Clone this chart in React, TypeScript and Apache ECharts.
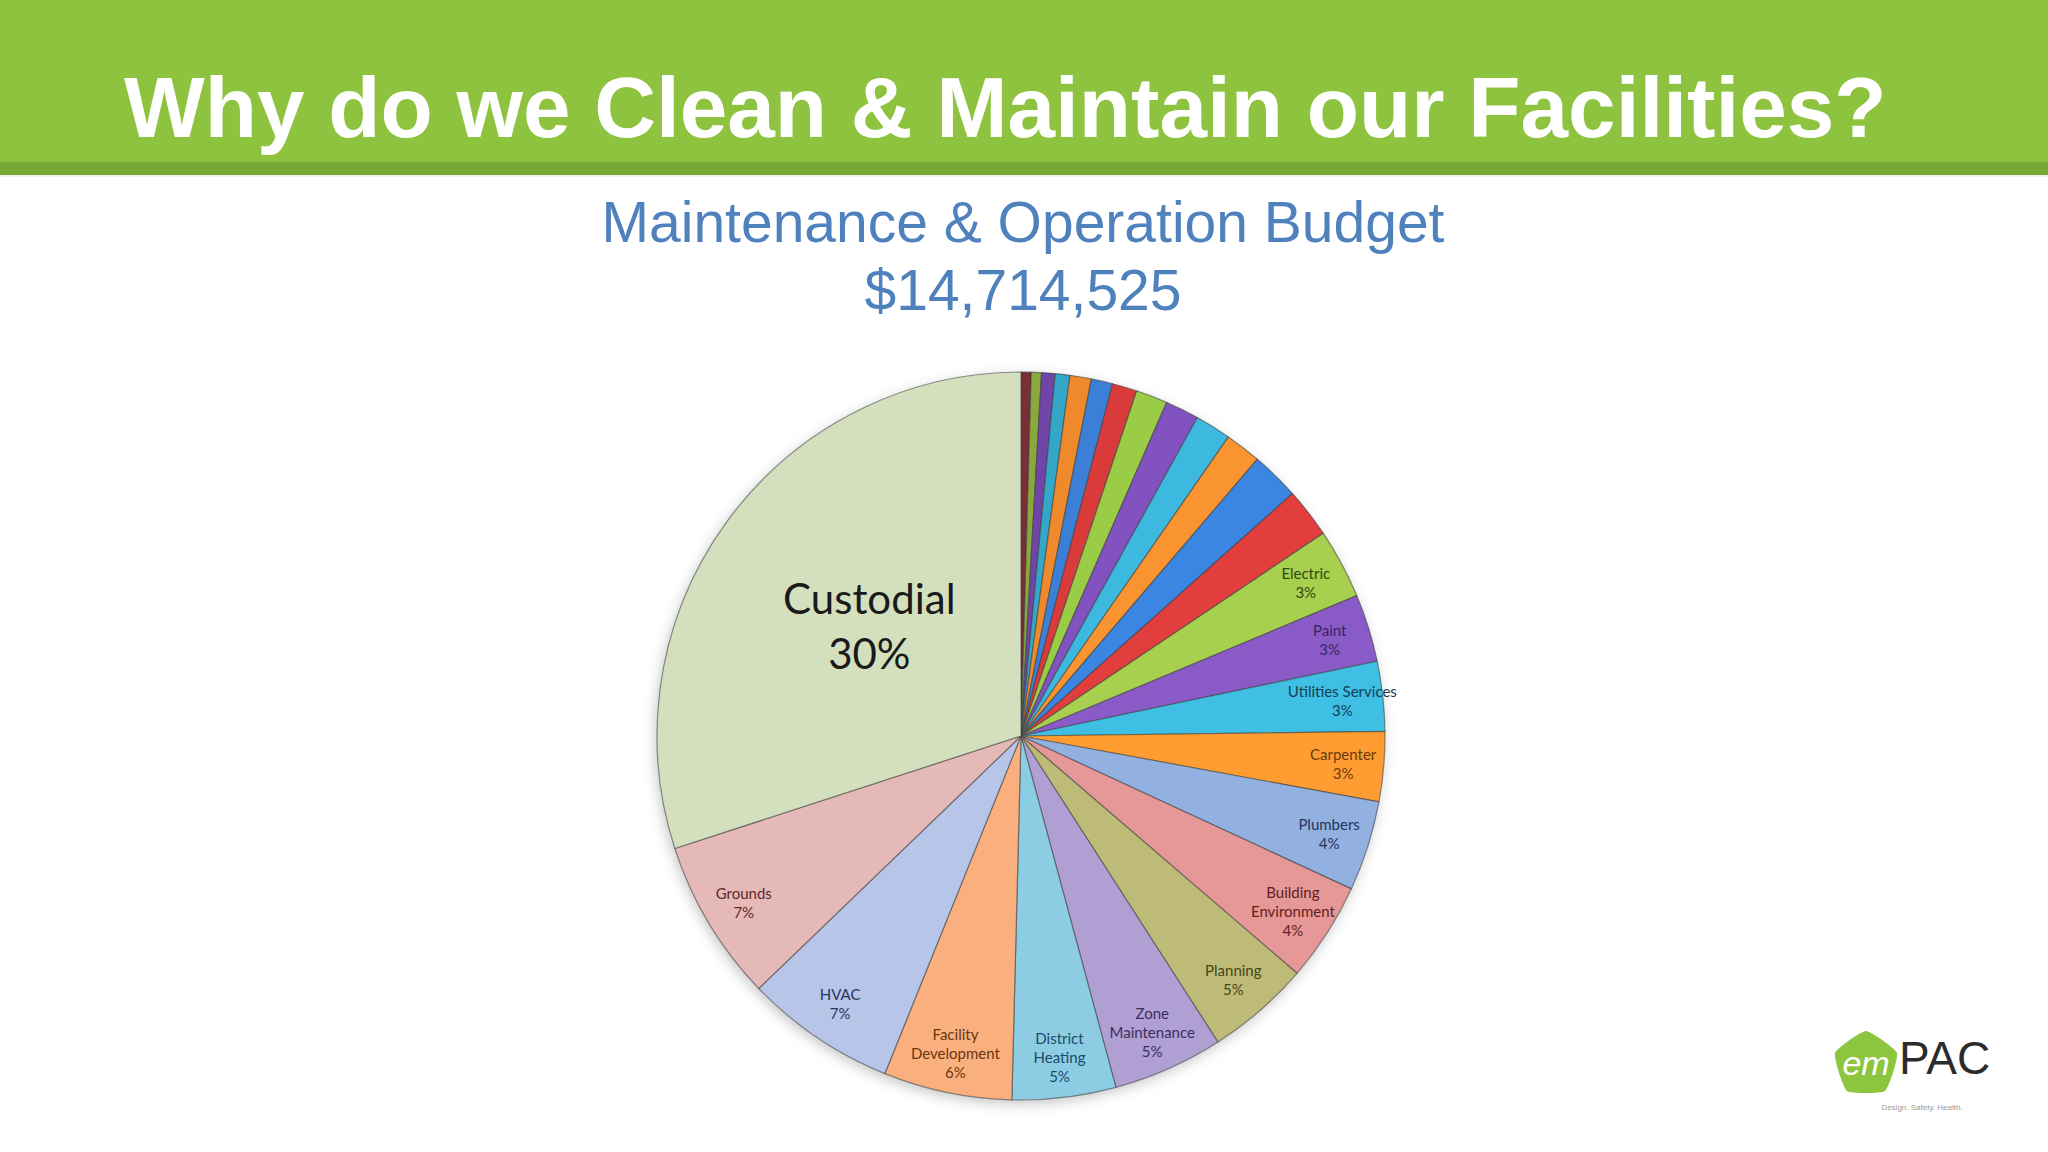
import React, { useEffect, useRef } from "react";
import * as echarts from "echarts";

// ---- data ----
const sliceNames = [
  "", "", "", "", "", "", "", "", "", "", "", "", "",
  "Electric",
  "Paint",
  "Utilities Services",
  "Carpenter",
  "Plumbers",
  "Building\nEnvironment",
  "Planning",
  "Zone\nMaintenance",
  "District\nHeating",
  "Facility\nDevelopment",
  "HVAC",
  "Grounds",
  "Custodial",
];
// percentage of the budget per department
const sliceValues = [
  0.45, 0.45, 0.6, 0.65, 0.95, 0.95, 1.1, 1.4, 1.5, 1.6, 1.6, 2.15, 2.2,
  3.1, 3.0, 3.1, 3.1, 4.0, 4.4, 4.6, 4.9, 4.6, 5.7, 6.7, 7.2, 30.0,
];

const titleText = "Why do we Clean & Maintain our Facilities?";
const subtitleLine1 = "Maintenance & Operation Budget";
const subtitleLine2 = "$14,714,525";

// ---- styles ----
const sliceColors = [
  "#7A2E35", "#8AA83C", "#6F46A8", "#34A7C9", "#EE8A2C", "#3C7FD6", "#D93B3B",
  "#9ACD45", "#8152C0", "#3DB8DE", "#FA9430", "#3B86E2", "#E33E3E",
  "#A6D04E", "#8A5BC6", "#3FBFE3", "#FF9D33",
  "#93B1E0", "#E69899", "#BDBB77", "#B09FD2", "#8DCDE3", "#F9B07E",
  "#B7C5E8", "#E6B9B9", "#D4E0BD",
];
const labelColors = [
  "", "", "", "", "", "", "", "", "", "", "", "", "",
  "#2E4A10", "#3B2465", "#123F55", "#6B3A0A",
  "#1F3560", "#632020", "#45451A", "#3D2D5E", "#1A4A6A", "#6A3510",
  "#2A3560", "#5A2A2A", "#1A1A1A",
];

const CX = 1021;
const CY = 736;
const R = 364;

export default function App() {
  const ref = useRef<HTMLDivElement>(null);

  useEffect(() => {
    if (!ref.current) return;
    const chart = echarts.init(ref.current, undefined, { renderer: "svg" });

    const mainData = sliceValues.map((v, i) => ({
      name: sliceNames[i],
      value: v,
      itemStyle: { color: sliceColors[i] },
      label:
        i === sliceValues.length - 1
          ? {
              show: true,
              position: "inside",
              fontFamily: "Lato",
              fontSize: 42,
              lineHeight: 55,
              offset: [-2, -2],
              color: labelColors[i],
              formatter: (p: any) => `${p.name}\n${Math.round(p.percent)}%`,
            }
          : { show: false },
    }));

    const labelData = sliceValues.map((v, i) => ({
      name: sliceNames[i],
      value: v,
      label: {
        show: sliceNames[i] !== "" && i !== sliceValues.length - 1,
        color: labelColors[i] || "#333",
      },
    }));

    const option: any = {
      animation: false,
      backgroundColor: "#ffffff",
      graphic: [
        { type: "rect", shape: { x: 0, y: 0, width: 2048, height: 163 }, style: { fill: "#8DC33F" } },
        { type: "rect", shape: { x: 0, y: 162, width: 2048, height: 13 }, style: { fill: "#79A736" } },
        { type: "rect", shape: { x: 0, y: 175, width: 2048, height: 2 }, style: { fill: "#EEF3E6" } },
        {
          type: "text",
          x: 124,
          y: 107,
          style: {
            text: titleText,
            fill: "#ffffff",
            font: "bold 85.5px 'Liberation Sans', Arial, sans-serif",
            textAlign: "left",
            textVerticalAlign: "middle",
          },
        },
        {
          type: "text",
          x: 1023,
          y: 222,
          style: {
            text: subtitleLine1,
            fill: "#4F81BD",
            font: "57px 'Liberation Sans', Arial, sans-serif",
            textAlign: "center",
            textVerticalAlign: "middle",
          },
        },
        {
          type: "text",
          x: 1023,
          y: 290,
          style: {
            text: subtitleLine2,
            fill: "#4F81BD",
            font: "57px 'Liberation Sans', Arial, sans-serif",
            textAlign: "center",
            textVerticalAlign: "middle",
          },
        },
        {
          type: "circle",
          shape: { cx: CX, cy: CY, r: R - 1 },
          style: { fill: "#ffffff", shadowBlur: 14, shadowColor: "rgba(0,0,0,0.25)", shadowOffsetX: -2, shadowOffsetY: 4 },
        },
        // logo
        {
          type: "polygon",
          shape: {
            points: [
              [1866, 1031],
              [1897, 1053],
              [1885, 1091],
              [1847, 1091],
              [1835, 1053],
            ],
            smooth: 0.15,
          },
          style: { fill: "#8CC63E" },
        },
        {
          type: "text",
          x: 1866,
          y: 1063,
          style: {
            text: "em",
            fill: "#ffffff",
            font: "italic 34px 'Liberation Sans', Arial, sans-serif",
            textAlign: "center",
            textVerticalAlign: "middle",
          },
        },
        {
          type: "text",
          x: 1899,
          y: 1058,
          style: {
            text: "PAC",
            fill: "#2B2B2B",
            font: "46px 'Liberation Sans', Arial, sans-serif",
            textAlign: "left",
            textVerticalAlign: "middle",
          },
        },
        {
          type: "text",
          x: 1922,
          y: 1107,
          style: {
            text: "Design. Safety. Health.",
            fill: "#9A9A9A",
            font: "8px 'Liberation Sans', Arial, sans-serif",
            textAlign: "center",
            textVerticalAlign: "middle",
          },
        },
      ],
      series: [
        {
          type: "pie",
          center: [CX, CY],
          radius: [0, R],
          startAngle: 90,
          clockwise: true,
          silent: true,
          itemStyle: { borderColor: "rgba(60,60,60,0.55)", borderWidth: 1.2 },
          labelLine: { show: false },
          data: mainData,
          z: 2,
        },
        {
          type: "pie",
          center: [CX, CY],
          radius: [R * 0.76, R],
          startAngle: 90,
          clockwise: true,
          silent: true,
          itemStyle: { color: "rgba(0,0,0,0)", borderWidth: 0 },
          label: {
            position: "inside",
            fontFamily: "Lato",
            fontSize: 15,
            lineHeight: 19,
            formatter: (p: any) => `${p.name}\n${Math.round(p.percent)}%`,
          },
          labelLine: { show: false },
          data: labelData,
          z: 3,
        },
      ],
    };

    chart.setOption(option);
    return () => chart.dispose();
  }, []);

  return (
    <div
      ref={ref}
      style={{ position: "fixed", left: 0, top: 0, width: 2048, height: 1152 }}
    />
  );
}
